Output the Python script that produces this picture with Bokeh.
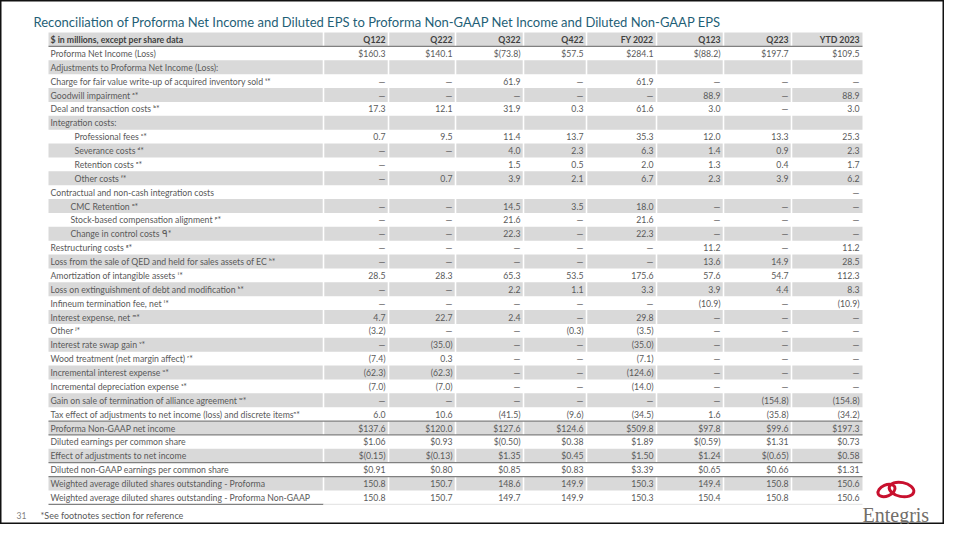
from bokeh.plotting import figure
from bokeh.models import Range1d
from bokeh.core.properties import value
from bokeh.embed import file_html
from bokeh.resources import INLINE

D = None  # shown as an em dash
B = ""    # empty cell

title = ("Reconciliation of Proforma Net Income and Diluted EPS to Proforma "
         "Non-GAAP Net Income and Diluted Non-GAAP EPS")
header_label = "$ in millions, except per share data"
columns = ["Q122", "Q222", "Q322", "Q422", "FY 2022", "Q123", "Q223", "YTD 2023"]

proforma_net_income = [160.3, 140.1, -73.8, 57.5, 284.1, -88.2, 197.7, 109.5]
blank_row = [B, B, B, B, B, B, B, B]
charge_fair_value = [D, D, 61.9, D, 61.9, D, D, D]
goodwill_impairment = [D, D, D, D, D, 88.9, D, 88.9]
deal_transaction = [17.3, 12.1, 31.9, 0.3, 61.6, 3.0, D, 3.0]
professional_fees = [0.7, 9.5, 11.4, 13.7, 35.3, 12.0, 13.3, 25.3]
severance_costs = [D, D, 4.0, 2.3, 6.3, 1.4, 0.9, 2.3]
retention_costs = [D, B, 1.5, 0.5, 2.0, 1.3, 0.4, 1.7]
other_costs = [D, 0.7, 3.9, 2.1, 6.7, 2.3, 3.9, 6.2]
contractual_costs = [B, B, B, B, B, B, B, D]
cmc_retention = [D, D, 14.5, 3.5, 18.0, D, D, D]
stock_based_comp = [D, D, 21.6, D, 21.6, D, D, D]
change_in_control = [D, D, 22.3, D, 22.3, D, D, D]
restructuring_costs = [D, D, D, D, D, 11.2, D, 11.2]
loss_sale_qed = [D, D, D, D, D, 13.6, 14.9, 28.5]
amortization = [28.5, 28.3, 65.3, 53.5, 175.6, 57.6, 54.7, 112.3]
loss_extinguishment = [D, D, 2.2, 1.1, 3.3, 3.9, 4.4, 8.3]
infineum_fee = [D, D, D, D, D, -10.9, D, -10.9]
interest_expense = [4.7, 22.7, 2.4, D, 29.8, D, D, D]
other_items = [-3.2, D, D, -0.3, -3.5, D, D, D]
swap_gain = [D, -35.0, D, D, -35.0, D, D, D]
wood_treatment = [-7.4, 0.3, D, D, -7.1, D, D, D]
incremental_interest = [-62.3, -62.3, D, D, -124.6, D, D, D]
incremental_depreciation = [-7.0, -7.0, D, D, -14.0, D, D, D]
gain_alliance = [D, D, D, D, D, D, -154.8, -154.8]
tax_effect = [6.0, 10.6, -41.5, -9.6, -34.5, 1.6, -35.8, -34.2]
non_gaap_net_income = [137.6, 120.0, 127.6, 124.6, 509.8, 97.8, 99.6, 197.3]
diluted_eps = [1.06, 0.93, -0.50, 0.38, 1.89, -0.59, 1.31, 0.73]
effect_adjustments = [-0.15, -0.13, 1.35, 0.45, 1.50, 1.24, -0.65, 0.58]
diluted_non_gaap_eps = [0.91, 0.80, 0.85, 0.83, 3.39, 0.65, 0.66, 1.31]
shares_proforma = [150.8, 150.7, 148.6, 149.9, 150.3, 149.4, 150.8, 150.6]
shares_non_gaap = [150.8, 150.7, 149.7, 149.9, 150.3, 150.4, 150.8, 150.6]

# (label, indent level, values, format)
rows = [
    ("Proforma Net Income (Loss)", 0, proforma_net_income, "money1"),
    ("Adjustments to Proforma Net Income (Loss):", 0, blank_row, "num1"),
    ("Charge for fair value write-up of acquired inventory sold ᵗ*", 0, charge_fair_value, "num1"),
    ("Goodwill impairment ᵃ*", 0, goodwill_impairment, "num1"),
    ("Deal and transaction costs ᵇ*", 0, deal_transaction, "num1"),
    ("Integration costs:", 0, blank_row, "num1"),
    ("Professional fees ᶜ*", 2, professional_fees, "num1"),
    ("Severance costs ᵈ*", 2, severance_costs, "num1"),
    ("Retention costs ᵉ*", 2, retention_costs, "num1"),
    ("Other costs ᶠ*", 2, other_costs, "num1"),
    ("Contractual and non-cash integration costs", 0, contractual_costs, "num1"),
    ("CMC Retention ᵒ*", 1, cmc_retention, "num1"),
    ("Stock-based compensation alignment ᵖ*", 1, stock_based_comp, "num1"),
    ("Change in control costs ᑫ*", 1, change_in_control, "num1"),
    ("Restructuring costs ᵍ*", 0, restructuring_costs, "num1"),
    ("Loss from the sale of QED and held for sales assets of EC ʰ*", 0, loss_sale_qed, "num1"),
    ("Amortization of intangible assets ⁱ*", 0, amortization, "num1"),
    ("Loss on extinguishment of debt and modification ᵏ*", 0, loss_extinguishment, "num1"),
    ("Infineum termination fee, net ˡ*", 0, infineum_fee, "num1"),
    ("Interest expense, net ᵐ*", 0, interest_expense, "num1"),
    ("Other ʲ*", 0, other_items, "num1"),
    ("Interest rate swap gain ᵛ*", 0, swap_gain, "num1"),
    ("Wood treatment (net margin affect) ʳ*", 0, wood_treatment, "num1"),
    ("Incremental interest expense ᵘ*", 0, incremental_interest, "num1"),
    ("Incremental depreciation expense ˢ*", 0, incremental_depreciation, "num1"),
    ("Gain on sale of termination of alliance agreement ʷ*", 0, gain_alliance, "num1"),
    ("Tax effect of adjustments to net income (loss) and discrete itemsⁿ*", 0, tax_effect, "num1"),
    ("Proforma Non-GAAP net income", 0, non_gaap_net_income, "money1"),
    ("Diluted earnings per common share", 0, diluted_eps, "money2"),
    ("Effect of adjustments to net income", 0, effect_adjustments, "money2"),
    ("Diluted non-GAAP earnings per common share", 0, diluted_non_gaap_eps, "money2"),
    ("Weighted average diluted shares outstanding - Proforma", 0, shares_proforma, "num1"),
    ("Weighted average diluted shares outstanding - Proforma Non-GAAP", 0, shares_non_gaap, "num1"),
]
rule_after = [26, 27, 29, 30]   # dark rules below these data rows (0-based)


def fmt(v, style):
    if v == "":
        return ""
    if v is None:
        return "—"
    dec = 2 if style == "money2" else 1
    s = f"{abs(v):.{dec}f}"
    if v < 0:
        s = f"({s})"
    if style.startswith("money"):
        s = "$" + s
    return s


# ---- layout (pixels of the picture) ----
W, H = 944, 524
TL, TR = 48, 862
LABEL_SEP = 323
col_seps = [388, 455, 523, 586, 656, 723, 791, 862]
GAP = 0.8
HEAD_Y = 39.0
STEP = 13.875
FONT = value("Lato")
FS = value("8.7px")
TXT = "#595959"
GRAY = "#d9d9d9"
RULE = "#808080"

p = figure(width=W, height=H, x_range=Range1d(0, W), y_range=Range1d(H, 0),
           output_backend="svg", toolbar_location=None, min_border=0,
           x_axis_location=None, y_axis_location=None)
p.grid.visible = False
p.outline_line_color = "#111111"
p.outline_line_width = 2
p.background_fill_color = "white"
p.border_fill_color = "white"

n = len(rows)
centers = [HEAD_Y + STEP * (i + 1) for i in range(n)]
half = STEP / 2

# gray cells: header and every second row, with thin white gaps between columns
band_y = [HEAD_Y] + [c for i, c in enumerate(centers) if (i + 1) % 2 == 0]
cell_l = [TL] + [s + GAP for s in [LABEL_SEP] + col_seps[:-1]]
cell_r = [LABEL_SEP - GAP] + [s - GAP for s in col_seps[:-1]] + [TR]
ql, qr, qt, qb = [], [], [], []
for y in band_y:
    for l, r in zip(cell_l, cell_r):
        ql.append(l)
        qr.append(r)
        qt.append(y - half)
        qb.append(y + half)
p.quad(left=ql, right=qr, top=qt, bottom=qb, fill_color=GRAY, line_color=None)

# rules
rule_y = [HEAD_Y + half] + [centers[i] + half for i in rule_after]
p.segment(x0=[TL] * len(rule_y), x1=[TR] * len(rule_y), y0=rule_y, y1=rule_y,
          line_color=RULE, line_width=1.3)
p.segment(x0=[TL], x1=[LABEL_SEP], y0=[centers[-1] + half], y1=[centers[-1] + half],
          line_color=RULE, line_width=1.3)
p.segment(x0=[LABEL_SEP], x1=[TR], y0=[centers[-1] + half], y1=[centers[-1] + half],
          line_color="#e6e6e6", line_width=1.3)

# header texts
p.text(x=[TL + 2], y=[HEAD_Y], text=[header_label], text_font=FONT, text_font_size=FS,
       text_font_style="bold", text_color="#404040", text_baseline="middle", text_align="left")
p.text(x=[s - 3 for s in col_seps], y=[HEAD_Y] * len(columns), text=columns, text_font=FONT,
       text_font_size=FS, text_font_style="bold", text_color="#404040",
       text_baseline="middle", text_align="right")

# row labels
indent_px = {0: 0, 1: 20, 2: 24}
p.text(x=[TL + 2 + indent_px[r[1]] for r in rows], y=centers, text=[r[0] for r in rows],
       text_font=FONT, text_font_size=FS, text_color=TXT,
       text_baseline="middle", text_align="left")

# values
vx, vy, vt = [], [], []
for i, (lab, ind, vals, style) in enumerate(rows):
    for j, v in enumerate(vals):
        s = fmt(v, style)
        if s:
            vx.append(col_seps[j] - 3)
            vy.append(centers[i])
            vt.append(s)
p.text(x=vx, y=vy, text=vt, text_font=FONT, text_font_size=FS, text_color=TXT,
       text_baseline="middle", text_align="right")

# title
p.text(x=[33], y=[21], text=[title], text_font=FONT, text_font_size=value("13px"),
       text_color="#1f5f77", text_baseline="middle", text_align="left")

# footer
p.text(x=[16], y=[515], text=["31"], text_font=FONT, text_font_size=value("8.5px"),
       text_color="#7f7f7f", text_baseline="middle", text_align="left")
p.text(x=[40], y=[515], text=["*See footnotes section for reference"], text_font=FONT,
       text_font_size=value("9px"), text_color=TXT, text_baseline="middle", text_align="left")

# logo
p.ellipse(x=[886, 901], y=[490, 489], width=[18, 25], height=[11, 14], angle=[0.4, -0.2],
          fill_alpha=0, line_color="#c8102e", line_width=3)
p.text(x=[862], y=[514], text=["Entegris"], text_font=value("Liberation Serif"),
       text_font_size=value("20px"), text_color="#726e6a", text_baseline="alphabetic",
       text_align="left")

open("out.html", "w").write(file_html(p, INLINE))
